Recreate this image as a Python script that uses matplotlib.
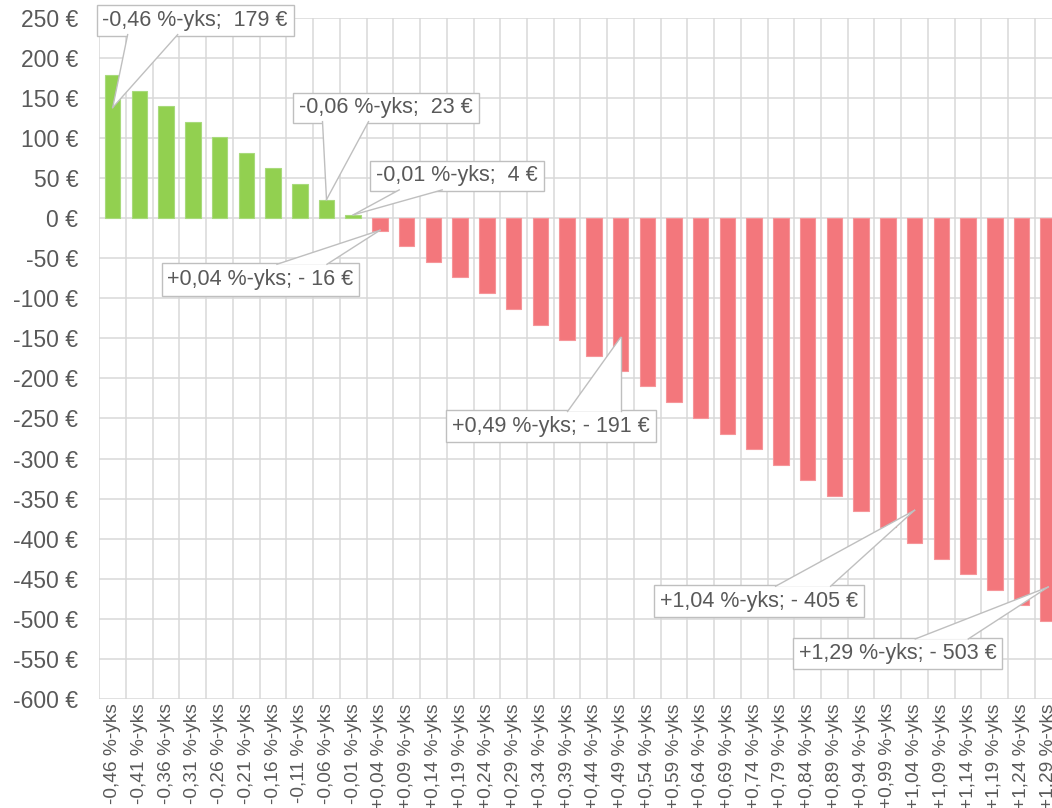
import matplotlib
matplotlib.use("Agg")
import matplotlib.pyplot as plt
from matplotlib.patches import Rectangle, Polygon
from matplotlib.lines import Line2D
from matplotlib.transforms import IdentityTransform

# muutos %-yksikköinä ja vastaava summa euroina
muutos = [-0.46, -0.41, -0.36, -0.31, -0.26, -0.21, -0.16, -0.11, -0.06, -0.01,
          0.04, 0.09, 0.14, 0.19, 0.24, 0.29, 0.34, 0.39, 0.44, 0.49,
          0.54, 0.59, 0.64, 0.69, 0.74, 0.79, 0.84, 0.89, 0.94, 0.99,
          1.04, 1.09, 1.14, 1.19, 1.24, 1.29]
euroa = [179, 159, 140, 120, 101, 81, 62, 42, 23, 4,
         -16, -35, -55, -74, -94, -113, -133, -152, -172, -191,
         -210, -230, -249, -269, -288, -308, -327, -347, -366, -386,
         -405, -425, -444, -464, -483, -503]
y_ticks = list(range(-600, 251, 50))

# kuvatekstit: indeksi, kärjen osuus pylväästä, laatikon siirtymä kärjestä (px, y alas),
# laatikon koko, kiilan kanta laatikon reunalla, reuna
callouts = [
    (0, 0.77, -16, -103, 197, 31, 31, 81, "bottom"),
    (8, 1.0, -34, -107, 186, 30, 30, 76, "bottom"),
    (9, 1.0, 17, -54, 174, 30, 29, 72, "bottom"),
    (10, 0.95, -218, 33, 197, 33, 115, 165, "top"),
    (19, 0.78, -175, 73, 210, 32, 122, 175, "top"),
    (30, 0.9, -261, 75, 210, 32, 122, 177, "top"),
    (35, 0.915, -255, 51, 209, 31, 122, 175, "top"),
]


def fmt_pct(v):
    s = ("+" if v > 0 else "-") + ("%.2f" % abs(v)).replace(".", ",")
    return s + " %-yks"


def fmt_eur(v):
    if v >= 0:
        return " %d €" % v
    return "- %d €" % -v


plt.rcParams["font.family"] = ["Liberation Sans", "DejaVu Sans"]
text_col = "#595959"
grid_col = "#D9D9D9"
green = "#92D050"
red = "#F3777C"

W, H = 1052, 808
fig = plt.figure(figsize=(W / 100, H / 100), dpi=100)
# the plot area runs past the right edge, like the original screenshot
ax = fig.add_axes([99.3 / W, 1 - 699 / H, 962.3 / W, (699 - 17.7) / H])

x = list(range(len(muutos)))
colors = [green if v >= 0 else red for v in euroa]
edges = ["#A8DA7C" if v >= 0 else "#F69599" for v in euroa]
ax.bar(x, euroa, width=0.58, color=colors, edgecolor=edges, linewidth=0.8, zorder=3)

ax.set_xlim(-0.5, len(muutos) - 0.5)
ax.set_ylim(-600, 250)
ax.set_yticks(y_ticks)
ax.set_yticklabels(["%d €" % v for v in y_ticks])
ax.set_xticks(x)
ax.set_xticklabels([fmt_pct(v) for v in muutos], rotation=90)
ax.set_xticks([i - 0.5 for i in range(len(muutos) + 1)], minor=True)

ax.grid(True, which="minor", axis="x", color=grid_col, linewidth=1.1, zorder=0)
ax.grid(True, which="major", axis="y", color=grid_col, linewidth=1.1, zorder=0)
ax.grid(False, which="major", axis="x")
ax.set_axisbelow(True)
for sp in ax.spines.values():
    sp.set_visible(False)
ax.tick_params(axis="both", which="both", length=0)
ax.tick_params(axis="y", labelsize=16.5, labelcolor=text_col, pad=15)
ax.tick_params(axis="x", labelsize=13.8, labelcolor=text_col, pad=3)

# Excel-tyyliset kuvatekstit
fig.canvas.draw()
for idx, frac, dx, dy, bw, bh, b0, b1, side in callouts:
    tx, ty = ax.transData.transform((idx, euroa[idx] * frac))
    left = tx + dx
    top = ty - dy
    bottom = top - bh
    ident = IdentityTransform()
    fig.add_artist(Rectangle((left, bottom), bw, bh, transform=ident,
                             facecolor="white", edgecolor="#BFBFBF",
                             linewidth=1.0, zorder=10))
    ey = bottom + 1 if side == "bottom" else top - 1
    p0 = (left + b0, ey)
    p1 = (left + b1, ey)
    fig.add_artist(Polygon([p0, p1, (tx, ty)], closed=True, transform=ident,
                           facecolor="white", edgecolor="none", zorder=11))
    for p in (p0, p1):
        fig.add_artist(Line2D([p[0], tx], [p[1], ty], transform=ident,
                              color="#BFBFBF", linewidth=1.0, zorder=12))
    label = fmt_pct(muutos[idx]) + "; " + fmt_eur(euroa[idx])
    fig.text(left + bw / 2, bottom + bh / 2, label, transform=ident,
             ha="center", va="center", fontsize=15.5, color=text_col, zorder=13)

fig.savefig("out.png", dpi=100)
plt.close("all")
